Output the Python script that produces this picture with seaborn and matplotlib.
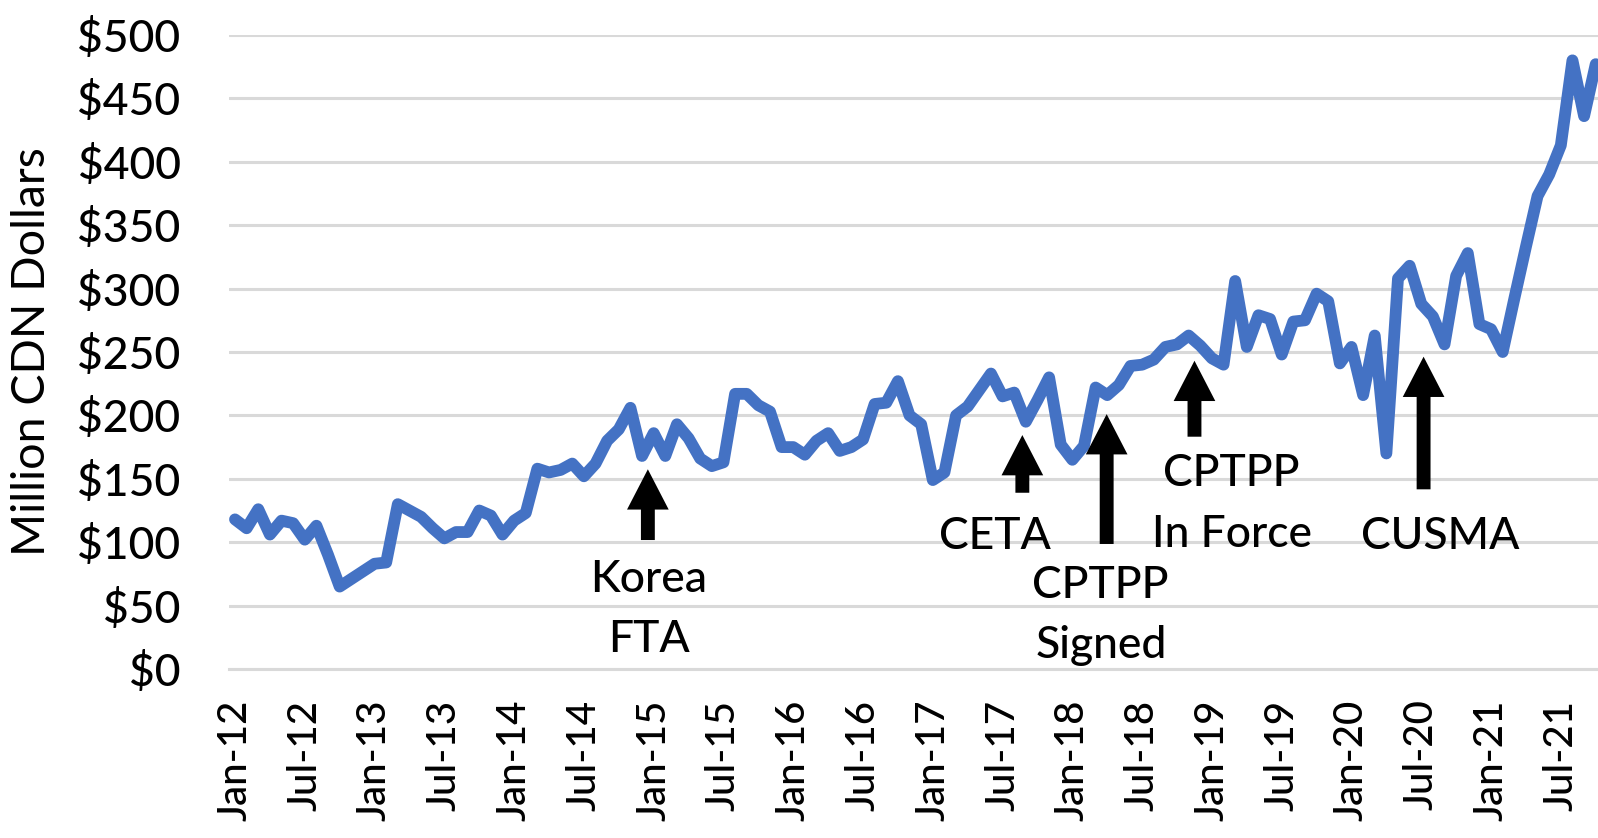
import pandas as pd
import matplotlib
matplotlib.use("Agg")
import matplotlib.pyplot as plt
import seaborn as sns

# monthly values, million CDN dollars
vals_2012 = [118, 111, 126, 106, 117, 115, 102, 113, 90, 65, 71, 77]
vals_2013 = [83, 84, 130, 125, 120, 111, 103, 108, 108, 125, 121, 106]
vals_2014 = [117, 123, 158, 155, 157, 162, 152, 162, 180, 189, 206, 168]
vals_2015 = [186, 168, 193, 182, 166, 160, 163, 217, 217, 208, 203, 175]
vals_2016 = [175, 169, 180, 186, 172, 175, 181, 209, 210, 227, 200, 193]
vals_2017 = [149, 155, 200, 207, 220, 233, 215, 218, 195, 212, 230, 177]
vals_2018 = [165, 176, 222, 216, 224, 239, 240, 244, 254, 256, 263, 255]
vals_2019 = [245, 240, 306, 254, 279, 276, 248, 274, 275, 296, 290, 241]
vals_2020 = [254, 216, 263, 170, 308, 318, 288, 278, 256, 310, 328, 272]
vals_2021 = [268, 250, 292, 333, 373, 390, 413, 480, 436, 477]

values = (vals_2012 + vals_2013 + vals_2014 + vals_2015 + vals_2016
          + vals_2017 + vals_2018 + vals_2019 + vals_2020 + vals_2021)
months = pd.date_range("2012-01-01", periods=len(values), freq="MS")
month_labels = [d.strftime("%b-%y") for d in months]

y_ticks = [0, 50, 100, 150, 200, 250, 300, 350, 400, 450, 500]

# trade agreement markers: label lines, arrow x (month index), arrow tip/base, text spots
events = [
    (["Korea", "FTA"], 35.5, 157.5, 101.7, [(35.6, 70.2), (35.6, 22.9)]),
    (["CETA"], 67.7, 184.5, 139.0, [(65.3, 104.3)]),
    (["CPTPP", "Signed"], 74.95, 201.0, 98.6, [(74.4, 66.2), (74.5, 18.9)]),
    (["CPTPP", "In Force"], 82.5, 243.1, 183.2, [(85.7, 154.3), (85.7, 105.7)]),
    (["CUSMA"], 102.2, 246.3, 141.7, [(103.6, 104.3)]),
]

sns.set_theme(style="white")
plt.rcParams["font.family"] = ["Lato", "DejaVu Sans"]
plt.rcParams["font.weight"] = "medium"
plt.rcParams["text.color"] = "black"
plt.rcParams["xtick.color"] = "black"
plt.rcParams["ytick.color"] = "black"
plt.rcParams["axes.labelcolor"] = "black"

W, H = 1598, 838
fig = plt.figure(figsize=(W / 100, H / 100), dpi=100)
x0_px, step_px = 235.0, 11.63
left_px = x0_px - 0.5 * step_px
right_px = x0_px + (len(values) - 0.5) * step_px
bottom_px, top_px = 669.0, 35.0
ax = fig.add_axes([left_px / W, 1 - bottom_px / H,
                   (right_px - left_px) / W, (bottom_px - top_px) / H])

df = pd.DataFrame({"idx": range(len(values)), "value": values})
sns.lineplot(data=df, x="idx", y="value", ax=ax, color="#4472C4",
             linewidth=8.5, solid_joinstyle="round", solid_capstyle="round")

ax.set_xlim(-0.5, len(values) - 0.5)
ax.set_ylim(0, 500)

# gridlines
grid_col = "#d9d9d9"
ax.set_yticks(y_ticks)
ax.set_yticklabels([f"${v}" for v in y_ticks], fontsize=32)
ax.yaxis.grid(True, color=grid_col, linewidth=2.2)
ax.set_axisbelow(True)
ax.tick_params(axis="y", length=0, pad=35)

# category labels every 6 months, tick marks between categories
major = list(range(0, len(values), 6))
ax.set_xticks(major)
ax.set_xticklabels([month_labels[i] for i in major], rotation=90, fontsize=29)
ax.set_xticks([i - 0.5 for i in major], minor=True)
ax.tick_params(axis="x", which="major", length=0, pad=22)
ax.tick_params(axis="x", which="minor", length=8, width=2.2, color=grid_col,
               direction="out")
ax.xaxis.grid(False)

for s in ["top", "right", "left"]:
    ax.spines[s].set_visible(False)
ax.spines["bottom"].set_color(grid_col)
ax.spines["bottom"].set_linewidth(2.2)

ax.set_xlabel("")
ax.set_ylabel("Million CDN Dollars", fontsize=33.5, va="center")
ax.yaxis.set_label_coords((32 - left_px) / (right_px - left_px), 0.5)

for lines, ax_x, tip, base, spots in events:
    ax.annotate("", xy=(ax_x, tip), xytext=(ax_x, base),
                arrowprops=dict(facecolor="black", edgecolor="none", width=10,
                                headwidth=30, headlength=29, shrink=0))
    for txt, (tx, ty) in zip(lines, spots):
        ax.text(tx, ty, txt, ha="center", va="center", fontsize=32,
                color="black")

fig.savefig("out.png", dpi=100)
